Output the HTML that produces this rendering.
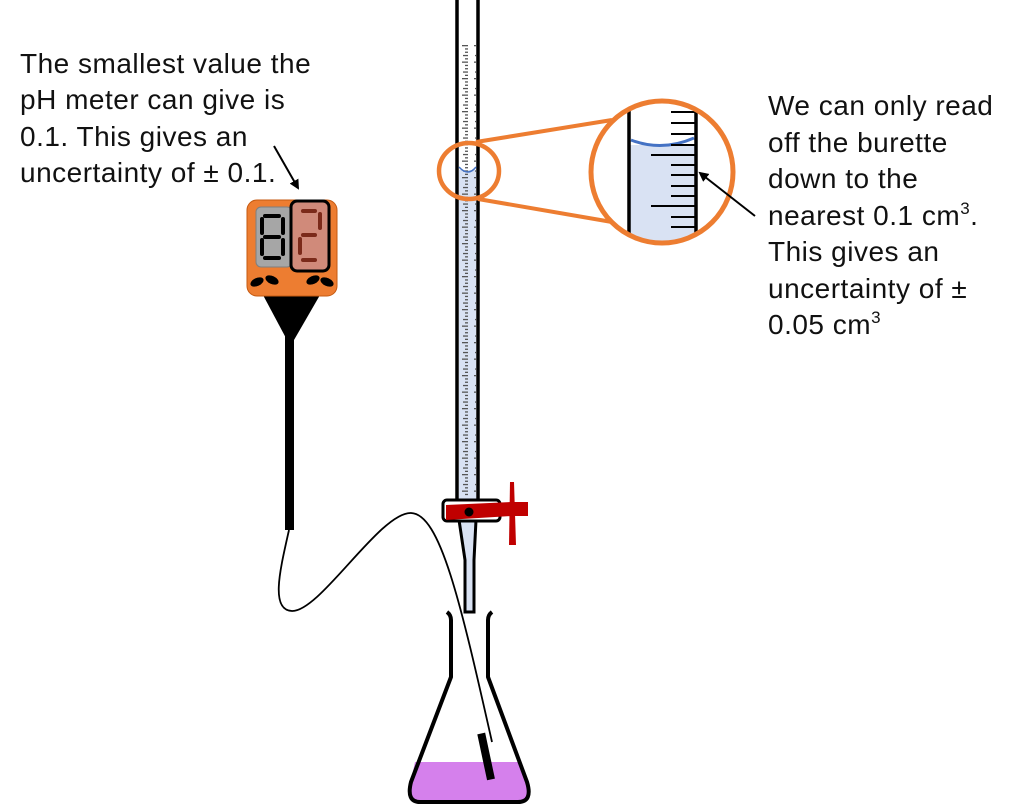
<!DOCTYPE html>
<html><head><meta charset="utf-8"><style>
html,body{margin:0;padding:0;background:#fff;}
svg{display:block}
text{font-family:"Liberation Sans",sans-serif;font-size:28px;letter-spacing:0.5px;fill:#111;}
</style></head><body>
<svg width="1024" height="807" viewBox="0 0 1024 807" xmlns="http://www.w3.org/2000/svg">
<defs>
<pattern id="ticks" x="0" y="45" width="12" height="16.5" patternUnits="userSpaceOnUse">
<rect x="6" y="0" width="6" height="1.3" fill="#555"/>
<rect x="9" y="3.3" width="3" height="1.3" fill="#555"/>
<rect x="9" y="6.6" width="3" height="1.3" fill="#555"/>
<rect x="7" y="9.9" width="5" height="1.3" fill="#555"/>
<rect x="9" y="13.2" width="3" height="1.3" fill="#555"/>
</pattern>
<marker id="ah" markerWidth="10" markerHeight="10" refX="8" refY="5" orient="auto" markerUnits="userSpaceOnUse"><path d="M0,0 L10,5 L0,10 Z" fill="#000"/></marker>
<clipPath id="bc"><circle cx="662" cy="172" r="70"/></clipPath>
</defs>

<!-- left text -->
<text x="20" y="73">The smallest value the</text>
<text x="20" y="109">pH meter can give is</text>
<text x="20" y="146">0.1. This gives an</text>
<text x="20" y="182">uncertainty of ± 0.1.</text>
<line x1="274" y1="146" x2="298" y2="188" stroke="#000" stroke-width="2" marker-end="url(#ah)"/>

<!-- right text -->
<text x="768" y="115">We can only read</text>
<text x="768" y="152">off the burette</text>
<text x="768" y="188">down to the</text>
<text x="768" y="225">nearest 0.1 cm<tspan font-size="17" dy="-11">3</tspan><tspan dy="11">.</tspan></text>
<text x="768" y="261">This gives an</text>
<text x="768" y="298">uncertainty of ±</text>
<text x="768" y="334">0.05 cm<tspan font-size="17" dy="-11">3</tspan></text>

<!-- burette -->
<rect x="457" y="-5" width="21" height="510" fill="#fff" stroke="#000" stroke-width="3.5"/>
<rect x="459" y="170" width="17" height="333" fill="#d9e2f3"/>
<rect x="462" y="45" width="14" height="452" fill="url(#ticks)"/>
<path d="M459,167 Q468,177 476,167" fill="none" stroke="#4472c4" stroke-width="1.5"/>
<!-- tip -->
<path d="M459,520 L476,520 L474,560 L474,612 L465,612 L465,560 Z" fill="#d9e2f3" stroke="#000" stroke-width="3"/>
<!-- stopcock -->
<rect x="443" y="500" width="57" height="21" rx="4" fill="#fff" stroke="#000" stroke-width="3"/>
<path d="M446,505 L512,502 L528,502 L528,516 L512,516 L446,520 Z" fill="#c00000"/>
<path d="M510,482 L514,482 L516,545 L509,545 Z" fill="#c00000"/>
<circle cx="469" cy="512" r="4.5" fill="#000"/>

<!-- zoom circles -->
<line x1="476" y1="142" x2="612" y2="120" stroke="#ed7d31" stroke-width="4"/>
<line x1="478" y1="199" x2="612" y2="222" stroke="#ed7d31" stroke-width="4"/>
<ellipse cx="469" cy="171" rx="30" ry="28" fill="none" stroke="#ed7d31" stroke-width="4.5"/>
<g clip-path="url(#bc)">
<rect x="590" y="100" width="150" height="150" fill="#fff"/>
<rect x="629" y="145" width="66" height="110" fill="#d9e2f3"/>
<path d="M631,140 Q662,152 694,138" fill="none" stroke="#4472c4" stroke-width="3"/>
<line x1="629" y1="95" x2="629" y2="260" stroke="#000" stroke-width="3.5"/>
<line x1="696" y1="95" x2="696" y2="260" stroke="#000" stroke-width="3.5"/>
<g stroke="#000" stroke-width="2">
<line x1="671" y1="112" x2="696" y2="112"/>
<line x1="671" y1="123" x2="696" y2="123"/>
<line x1="671" y1="134" x2="696" y2="134"/>
<line x1="671" y1="145" x2="696" y2="145"/>
<line x1="651" y1="155" x2="696" y2="155"/>
<line x1="671" y1="165" x2="696" y2="165"/>
<line x1="671" y1="175" x2="696" y2="175"/>
<line x1="671" y1="186" x2="696" y2="186"/>
<line x1="671" y1="196" x2="696" y2="196"/>
<line x1="651" y1="206" x2="696" y2="206"/>
<line x1="671" y1="217" x2="696" y2="217"/>
<line x1="671" y1="227" x2="696" y2="227"/>
</g>
</g>
<circle cx="662" cy="172" r="71" fill="none" stroke="#ed7d31" stroke-width="5"/>
<line x1="755" y1="216" x2="700" y2="173" stroke="#000" stroke-width="2" marker-end="url(#ah)"/>

<!-- pH meter -->
<path d="M263,295 L320,295 L294,340 L287,340 Z" fill="#000"/>
<rect x="285" y="330" width="9" height="200" fill="#000"/>
<rect x="247" y="200" width="90" height="96" rx="10" fill="#ed7d31" stroke="#c55a11" stroke-width="1"/>
<rect x="256" y="207" width="36" height="60" rx="5" fill="#a6a6a6" stroke="#7f7f7f"/>
<rect x="291" y="201" width="38" height="70" rx="6" fill="#d08a7a" stroke="#000" stroke-width="3"/>
<g fill="#000">
<rect x="263" y="214" width="18" height="4" rx="2"/>
<rect x="263" y="235" width="18" height="4" rx="2"/>
<rect x="263" y="256" width="18" height="4" rx="2"/>
<rect x="260" y="217" width="4" height="18" rx="2"/>
<rect x="281" y="217" width="4" height="18" rx="2"/>
<rect x="260" y="238" width="4" height="18" rx="2"/>
<rect x="281" y="238" width="4" height="18" rx="2"/>
</g>
<g fill="#7b2a1a">
<rect x="301" y="209" width="16" height="4" rx="2"/>
<rect x="318" y="212" width="4" height="18" rx="2"/>
<rect x="301" y="233" width="16" height="4" rx="2"/>
<rect x="298" y="237" width="4" height="18" rx="2"/>
<rect x="301" y="258" width="16" height="4" rx="2"/>
</g>
<ellipse cx="257" cy="282" rx="7" ry="4" transform="rotate(-25 257 282)" fill="#000"/>
<ellipse cx="272" cy="280" rx="7" ry="4" transform="rotate(25 272 280)" fill="#000"/>
<ellipse cx="313" cy="280" rx="7" ry="4" transform="rotate(-25 313 280)" fill="#000"/>
<ellipse cx="327" cy="282" rx="7" ry="4" transform="rotate(25 327 282)" fill="#000"/>

<!-- cable -->
<path d="M289,530 C280,570 270,610 292,611 C320,612 380,512 411,513 C440,514 460,600 492,742" fill="none" stroke="#000" stroke-width="1.8"/>

<!-- flask -->
<path d="M415,762 L521,762 L529,785 Q532,800 518,800 L420,800 Q406,800 410,785 Z" fill="#d580ec"/>
<path d="M447,612 Q451,615 451,620 L451,677 L411,782 Q406,802 420,802 L518,802 Q533,802 527,782 L488,677 L488,620 Q488,615 492,612" fill="none" stroke="#000" stroke-width="4" stroke-linejoin="round"/>
<rect x="482" y="733" width="8" height="47" transform="rotate(-12 486 756)" fill="#000"/>
</svg>
</body></html>
